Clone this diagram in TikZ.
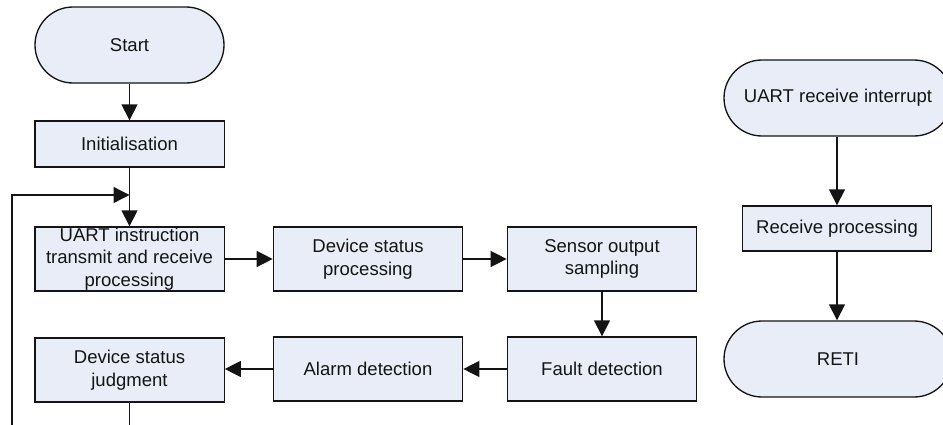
\documentclass[tikz,border=0pt]{standalone}
\usepackage{fontspec}
\setmainfont{Liberation Sans}
\usetikzlibrary{arrows.meta}
\definecolor{boxfill}{RGB}{232,237,247}
\definecolor{ink}{RGB}{20,20,20}
\begin{document}
\begin{tikzpicture}[x=0.75pt,y=-0.75pt,
  every node/.style={font=\fontsize{13.9}{17}\selectfont, text=ink},
  procbox/.style={draw=ink, fill=boxfill, line width=1pt, inner sep=0pt, align=center,
    minimum width=142pt, minimum height=48pt},
  stadium/.style={draw=ink, fill=boxfill, line width=1pt, inner sep=0pt, align=center,
    minimum height=57pt, rounded corners=28.5pt},
  conn/.style={draw=ink, line width=1pt, -{Triangle[length=12pt,width=12pt]}},
  plainconn/.style={draw=ink, line width=1pt}]
\useasboundingbox (0,0) rectangle (943,425);
\clip (0,0) rectangle (943,425);
% left flow
\node[stadium, minimum width=141.75pt] (start) at (129.5,45) {Start};
\node[procbox, minimum height=34.5pt] (init) at (129.5,144) {Initialisation};
\node[procbox] (uart) at (129.5,259) {UART instruction\\transmit and receive\\processing};
\node[procbox] (dsp) at (368,259) {Device status\\processing};
\node[procbox] (sos) at (602,259) {Sensor output\\sampling};
\node[procbox] (fault) at (602,369) {Fault detection};
\node[procbox] (alarm) at (368,369) {Alarm detection};
\node[procbox] (dsj) at (129.5,370) {Device status\\judgment};
\coordinate (join) at (129.5,195);
\coordinate (bot1) at (129.5,426);
\coordinate (bot2) at (12,426);
\draw[conn] (start) -- (init);
\draw[conn] (init) -- (uart);
\draw[conn] (uart) -- (dsp);
\draw[conn] (dsp) -- (sos);
\draw[conn] (sos) -- (fault);
\draw[conn] (fault) -- (alarm);
\draw[conn] (alarm.west) -- (dsj.east |- alarm.west);
\draw[plainconn] (dsj) -- (bot1);
\draw[conn] (bot2) |- (join);
% right flow
\node[stadium, minimum width=171pt] (uri) at (838,98) {UART receive interrupt};
\node[procbox, minimum height=33.75pt] (rp) at (837,228.5) {Receive processing};
\node[stadium, minimum width=171pt] (reti) at (838,359) {RETI};
\draw[conn] (uri.south -| rp.north) -- (rp);
\draw[conn] (rp) -- (rp.south |- reti.north);
\end{tikzpicture}
\end{document}
